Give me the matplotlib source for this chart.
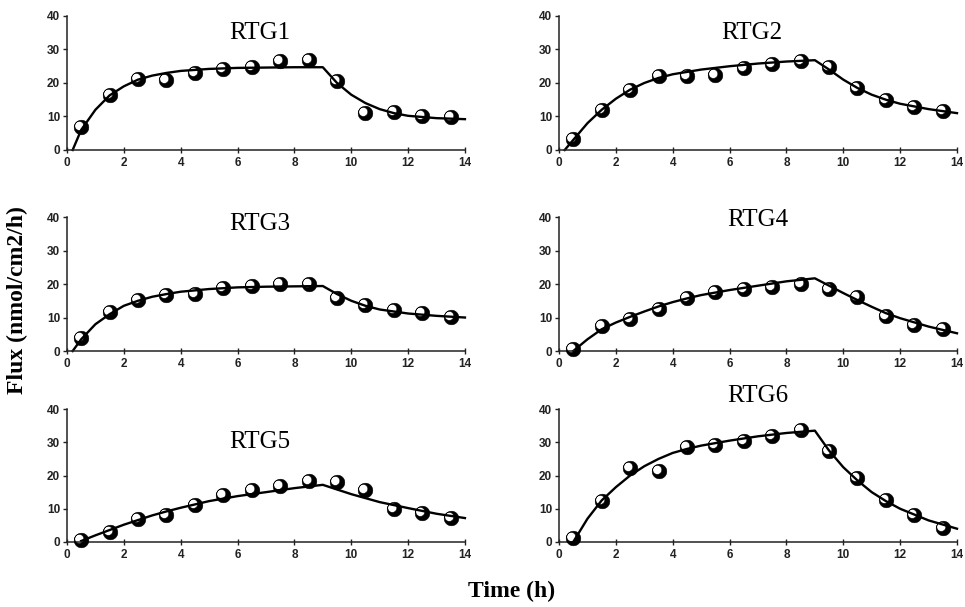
import numpy as np
import matplotlib
matplotlib.use("Agg")
import matplotlib.pyplot as plt
from matplotlib.path import Path

# measured time points (h)
t_obs = [0.5, 1.5, 2.5, 3.5, 4.5, 5.5, 6.5, 7.5, 8.5, 9.5, 10.5, 11.5, 12.5, 13.5]

obs_rtg1 = [6.8, 16.3, 21.1, 20.9, 22.9, 24.1, 24.9, 26.6, 26.9, 20.6, 10.9, 11.2, 10.0, 9.7]
obs_rtg2 = [3.2, 11.9, 17.9, 22.1, 22.1, 22.3, 24.4, 25.6, 26.7, 24.9, 18.4, 14.9, 12.7, 11.6]
obs_rtg3 = [4.0, 11.6, 15.1, 16.8, 17.1, 18.8, 19.4, 20.1, 20.1, 15.9, 13.6, 12.1, 11.4, 10.1]
obs_rtg4 = [0.7, 7.5, 9.5, 12.4, 15.9, 17.6, 18.6, 19.2, 19.9, 18.4, 16.1, 10.6, 7.8, 6.7]
obs_rtg5 = [0.7, 3.0, 6.8, 8.0, 11.1, 14.1, 15.6, 16.8, 18.5, 18.0, 15.6, 9.8, 8.8, 7.1]
obs_rtg6 = [1.2, 12.4, 22.3, 21.5, 28.5, 29.1, 30.3, 31.8, 33.6, 27.5, 19.2, 12.5, 8.2, 4.2]

# fitted curves
t_fit_a = [0.2, 0.5, 1, 1.5, 2, 2.5, 3, 3.5, 4, 5, 6, 7, 8, 9, 9.5, 10, 10.5, 11, 11.5, 12, 13, 14]
fit_rtg1 = [0, 6.0, 12.0, 16.3, 19.0, 21.0, 22.2, 23.0, 23.6, 24.2, 24.5, 24.6, 24.7, 24.7,
            20.0, 16.5, 14.0, 12.2, 11.0, 10.2, 9.5, 9.2]
fit_rtg2 = [0, 3.0, 8.0, 12.0, 15.3, 18.0, 20.0, 21.5, 22.6, 24.0, 25.0, 25.8, 26.4, 26.8,
            24.0, 21.0, 18.5, 16.5, 15.0, 13.8, 12.2, 11.0]
fit_rtg3 = [0, 3.5, 8.0, 11.0, 13.5, 15.0, 16.2, 17.0, 17.7, 18.5, 19.0, 19.2, 19.3, 19.4,
            17.0, 15.0, 13.5, 12.4, 11.8, 11.2, 10.5, 10.0]
t_fit_b = [0.5, 1, 1.5, 2, 2.5, 3, 3.5, 4, 4.5, 5, 6, 7, 8, 9, 9.5, 10, 10.5, 11, 11.5, 12, 13, 14]
fit_rtg4 = [0, 3.5, 6.5, 8.5, 10.2, 11.8, 13.3, 14.6, 15.7, 16.7, 18.2, 19.5, 20.8, 21.7,
            19.5, 17.3, 15.2, 13.2, 11.3, 9.8, 7.3, 5.3]
fit_rtg5 = [0.3, 2.0, 3.6, 5.2, 6.6, 8.0, 9.2, 10.3, 11.3, 12.3, 13.8, 15.0, 16.2, 17.2,
            15.8, 14.4, 13.2, 12.0, 11.1, 10.2, 8.5, 7.2]
fit_rtg6 = [0, 7.0, 12.5, 16.5, 20.0, 22.8, 25.0, 26.8, 28.0, 29.0, 30.5, 31.8, 32.8, 33.5,
            27.5, 22.5, 18.5, 15.0, 12.3, 10.0, 6.5, 4.0]

names = ["RTG1", "RTG2", "RTG3", "RTG4", "RTG5", "RTG6"]
obs = [obs_rtg1, obs_rtg2, obs_rtg3, obs_rtg4, obs_rtg5, obs_rtg6]
fits = [(t_fit_a, fit_rtg1), (t_fit_a, fit_rtg2), (t_fit_a, fit_rtg3),
        (t_fit_b, fit_rtg4), (t_fit_b, fit_rtg5), (t_fit_b, fit_rtg6)]

# axes boxes in figure fractions, and where the panel title sits (axes fractions)
boxes = [(0.0694, 0.7529, 0.4124, 0.2208), (0.5793, 0.7529, 0.4124, 0.2208),
         (0.0694, 0.4217, 0.4124, 0.2208), (0.5793, 0.4217, 0.4124, 0.2208),
         (0.0694, 0.1071, 0.4124, 0.2190), (0.5793, 0.1071, 0.4124, 0.2190)]
title_pos = [(0.485, 0.87), (0.485, 0.87), (0.485, 0.95),
             (0.50, 0.98), (0.485, 0.75), (0.50, 1.10)]


def ball_marker():
    # black disc with a white highlight on the upper left (hole wound the other way)
    a = np.linspace(0, 2 * np.pi, 60)
    outer = np.column_stack([np.cos(a), np.sin(a)])
    b = np.linspace(2 * np.pi, 0, 40)
    inner = np.column_stack([-0.30 + 0.62 * np.cos(b), 0.22 + 0.62 * np.sin(b)])
    verts = np.vstack([outer, [[0, 0]], inner, [[0, 0]]])
    codes = ([Path.MOVETO] + [Path.LINETO] * (len(outer) - 1) + [Path.CLOSEPOLY]
             + [Path.MOVETO] + [Path.LINETO] * (len(inner) - 1) + [Path.CLOSEPOLY])
    return Path(verts, codes)


marker = ball_marker()
serif = ["Liberation Serif", "DejaVu Serif"]

fig = plt.figure(figsize=(9.65, 6.07), dpi=100)
fig.patch.set_facecolor("white")

for i, name in enumerate(names):
    ax = fig.add_axes(boxes[i])
    tx, ty = fits[i]
    ax.plot(tx, ty, color="black", lw=1.7, zorder=2, clip_on=False)
    ax.plot(t_obs, obs[i], linestyle="none", marker=marker, markersize=10.5,
            markerfacecolor="black", markeredgecolor="black", markeredgewidth=0.4,
            zorder=3, clip_on=False)
    ax.set_xlim(0, 14)
    ax.set_ylim(0, 40)
    ax.set_xticks(range(0, 15, 2))
    ax.set_yticks(range(0, 41, 10))
    for s in ["top", "right"]:
        ax.spines[s].set_visible(False)
    for s in ["left", "bottom"]:
        ax.spines[s].set_linewidth(1.1)
        ax.spines[s].set_color("#222222")
    ax.tick_params(axis="x", direction="inout", length=4, width=1, pad=3,
                   labelsize=8.5, colors="#222222")
    ax.tick_params(axis="y", direction="out", length=3, width=1, pad=2,
                   labelsize=8.5, colors="#222222")
    for lab in ax.get_xticklabels() + ax.get_yticklabels():
        lab.set_fontweight("bold")
        lab.set_family(["Liberation Sans", "DejaVu Sans"])
    ax.text(title_pos[i][0], title_pos[i][1], name, transform=ax.transAxes,
            ha="center", va="center", fontsize=18, family=serif, clip_on=False)

fig.text(0.018, 0.505, "Flux (nmol/cm2/h)", rotation=90, ha="center", va="center",
         fontsize=17, fontweight="bold", family=serif)
fig.text(0.53, 0.025, "Time (h)", ha="center", va="center",
         fontsize=17, fontweight="bold", family=serif)

fig.savefig("out.png", dpi=100, facecolor="white")
